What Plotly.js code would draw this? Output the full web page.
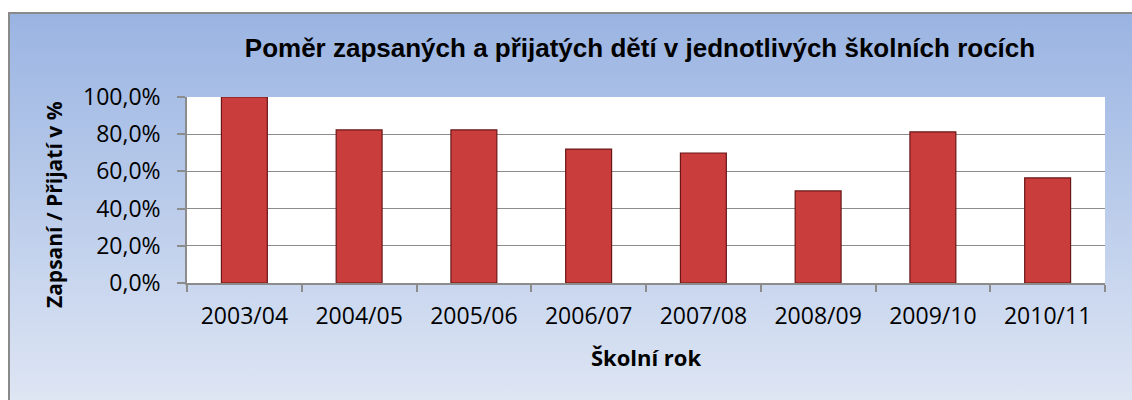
<!DOCTYPE html>
<html>
<head>
<meta charset="utf-8">
<script src="https://cdn.plot.ly/plotly-3.0.1.min.js"></script>
<style>
  html, body { margin: 0; padding: 0; width: 1132px; height: 400px; overflow: hidden; background: #ffffff; }
  #bg { position: absolute; left: 8px; top: 12px; width: 1130px; height: 400px;
        background: linear-gradient(to bottom, #9ab4e2 0%, #bccdeb 50%, #e0e7f4 100%);
        border-left: 2px solid #8a8a8a; border-top: 2px solid #8a8a8a; box-sizing: border-box; }
  #chart { position: absolute; left: 0; top: 0; width: 1132px; height: 400px; }
</style>
</head>
<body>
<div id="bg"></div>
<div id="chart"></div>
<script>
const categories = ["2003/04", "2004/05", "2005/06", "2006/07", "2007/08", "2008/09", "2009/10", "2010/11"];
const ratioPercent = [100.0, 82.3, 82.3, 72.0, 69.9, 49.5, 81.2, 56.5];
const yTickValues = [0, 20, 40, 60, 80, 100];
const yTickLabels = ["0,0%", "20,0%", "40,0%", "60,0%", "80,0%", "100,0%"];
const chartTitle = "Poměr zapsaných a přijatých dětí v jednotlivých školních rocích";
const xTitle = "Školní rok";
const yTitle = "Zapsaní / Přijatí v %";

const trace = {
  type: "bar",
  x: categories,
  y: ratioPercent,
  marker: { color: "#c93d3d", line: { color: "#6b1616", width: 1.2 } },
  hoverinfo: "x+y"
};

const axisFont = { family: "Open Sans, Noto Sans, sans-serif", size: 23, color: "#000000" };
const axisTitleFont = { family: "Open Sans, Noto Sans, sans-serif", size: 21, color: "#000000" };

const layout = {
  width: 1132, height: 400,
  paper_bgcolor: "rgba(0,0,0,0)",
  plot_bgcolor: "#ffffff",
  margin: { l: 187, r: 27, t: 97, b: 117, autoexpand: false },
  bargap: 0.6,
  showlegend: false,
  title: {
    text: "<b>" + chartTitle + "</b>",
    font: { family: "Liberation Sans, Arial, sans-serif", size: 26, color: "#000000" },
    x: 640 / 1132, xref: "container", xanchor: "center",
    y: 1 - 48 / 400, yref: "container", yanchor: "middle"
  },
  xaxis: {
    type: "category",
    tickfont: axisFont,
    ticks: "outside", ticklen: 7, tickcolor: "#8c8c8c", tickwidth: 1.5,
    tickson: "boundaries",
    ticklabelstandoff: 12,
    showline: true, linecolor: "#8c8c8c", linewidth: 1.5,
    showgrid: false,
    automargin: false,
    title: { text: "<b>" + xTitle + "</b>", font: { family: "Open Sans, Noto Sans, sans-serif", size: 22, color: "#000000" }, standoff: 20 }
  },
  yaxis: {
    range: [0, 100],
    tickmode: "array",
    tickvals: yTickValues,
    ticktext: yTickLabels,
    tickfont: axisFont,
    ticks: "outside", ticklen: 8, tickcolor: "#8c8c8c", tickwidth: 1.5,
    ticklabelstandoff: 12,
    showline: true, linecolor: "#8c8c8c", linewidth: 1.5,
    showgrid: true, gridcolor: "#8c8c8c", gridwidth: 1.2,
    zeroline: false,
    automargin: false
  },
  annotations: [{
    text: "<b>" + yTitle + "</b>",
    font: axisTitleFont,
    textangle: -90,
    xref: "paper", yref: "paper",
    x: (54 - 187) / 918, y: (283 - 205) / 186,
    xanchor: "center", yanchor: "middle",
    showarrow: false
  }]
};

Plotly.newPlot("chart", [trace], layout, { displayModeBar: false });
</script>
</body>
</html>
